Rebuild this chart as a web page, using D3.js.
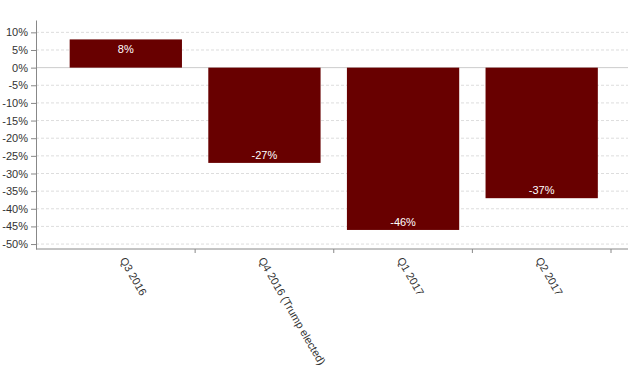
<!DOCTYPE html>
<html>
<head>
<meta charset="utf-8">
<script src="https://cdn.jsdelivr.net/npm/d3@7"></script>
<style>
  body { margin: 0; background: #fff; }
  svg { font-family: "Liberation Sans", Arial, sans-serif; }
  .axis path, .axis line { stroke: #888; }
  .axis text { fill: #333; font-size: 11px; }
  .grid line { stroke: #ddd; stroke-dasharray: 3, 2; }
  .grid line.zero { stroke: #ccc; stroke-dasharray: none; }
</style>
</head>
<body>
<div id="chart"></div>
<script>
let quarters = ["Q3 2016", "Q4 2016 (Trump elected)", "Q1 2017", "Q2 2017"];
let changes = [8, -27, -46, -37];
let yTicks = [10, 5, 0, -5, -10, -15, -20, -25, -30, -35, -40, -45, -50];

let w = 641, h = 382;
let padLeft = 36, padRight = 628, padTop = 20, padBottom = 249;

let svg = d3.select("#chart")
    .append("svg")
    .attr("width", w)
    .attr("height", h);

let yScale = d3.scaleLinear()
    .domain([-51.4, 13.5])
    .range([padBottom, padTop]);

let xScale = d3.scaleBand()
    .domain(quarters)
    .range([56.5, 611])
    .paddingInner(0.19)
    .paddingOuter(0.095);

// grid lines
svg.append("g")
    .attr("class", "grid")
    .selectAll("line")
    .data(yTicks)
    .enter()
    .append("line")
    .attr("class", function (d) { return d === 0 ? "zero" : null; })
    .attr("x1", padLeft)
    .attr("x2", padRight)
    .attr("y1", function (d) { return yScale(d); })
    .attr("y2", function (d) { return yScale(d); });

// bars
svg.selectAll("rect.bar")
    .data(changes)
    .enter()
    .append("rect")
    .attr("class", "bar")
    .attr("x", function (d, i) { return xScale(quarters[i]); })
    .attr("width", xScale.bandwidth())
    .attr("y", function (d) { return yScale(Math.max(0, d)); })
    .attr("height", function (d) { return Math.abs(yScale(d) - yScale(0)); })
    .attr("fill", "#680000");

// value labels inside bar ends
svg.selectAll("text.val")
    .data(changes)
    .enter()
    .append("text")
    .attr("class", "val")
    .attr("x", function (d, i) { return xScale(quarters[i]) + xScale.bandwidth() / 2; })
    .attr("y", function (d) { return d > 0 ? yScale(d) + 14 : yScale(d) - 4; })
    .attr("text-anchor", "middle")
    .attr("fill", "#fff")
    .style("font-size", "11px")
    .text(function (d) { return d + "%"; });

// y axis
let yAxis = d3.axisLeft(yScale)
    .tickValues(yTicks)
    .tickSize(5)
    .tickSizeOuter(0)
    .tickFormat(function (d) { return d + "%"; });

svg.append("g")
    .attr("class", "axis")
    .attr("transform", "translate(" + padLeft + ",0)")
    .call(yAxis);

// x axis line with ticks at band boundaries
let xg = svg.append("g").attr("class", "axis");
xg.append("line")
    .attr("x1", padLeft).attr("x2", padRight)
    .attr("y1", padBottom).attr("y2", padBottom);
xg.selectAll("line.tick")
    .data(quarters)
    .enter()
    .append("line")
    .attr("class", "tick")
    .attr("x1", function (d) { return xScale(d) + xScale.bandwidth() + xScale.step() * 0.095; })
    .attr("x2", function (d) { return xScale(d) + xScale.bandwidth() + xScale.step() * 0.095; })
    .attr("y1", padBottom)
    .attr("y2", padBottom + 4);

xg.selectAll("text")
    .data(quarters)
    .enter()
    .append("text")
    .attr("transform", function (d) {
        return "translate(" + (xScale(d) + xScale.bandwidth() / 2 - 3) + "," + (padBottom + 9) + ") rotate(60)";
    })
    .attr("text-anchor", "start")
    .attr("dy", "0.35em")
    .text(function (d) { return d; });
</script>
</body>
</html>
